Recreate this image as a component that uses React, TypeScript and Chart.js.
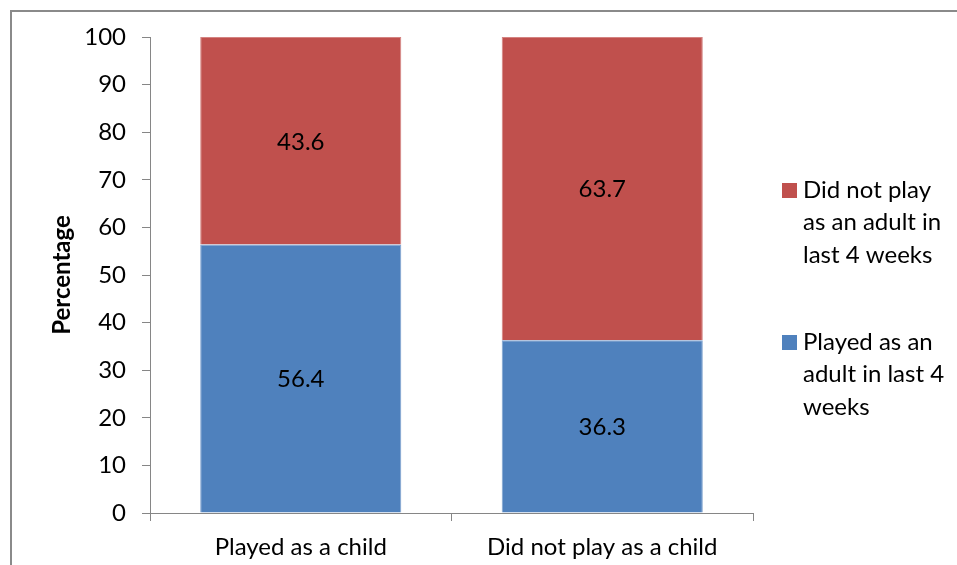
import React, { useEffect, useRef } from "react";
import { Chart, registerables } from "chart.js";

Chart.register(...registerables);

const categories = ["Played as a child", "Did not play as a child"];
const playedAsAdult = [56.4, 36.3];
const didNotPlayAsAdult = [43.6, 63.7];
const seriesNames = [
  "Played as an adult in last 4 weeks",
  "Did not play as an adult in last 4 weeks",
];
const legendLines = [
  ["Did not play", "as an adult in", "last 4 weeks"],
  ["Played as an", "adult in last 4", "weeks"],
];
const yAxisTitle = "Percentage";
const yMin = 0;
const yMax = 100;
const yStep = 10;

const RED = "#C0504D";
const BLUE = "#4F81BD";
const FONT = "Lato, 'Open Sans', sans-serif";

const framePlugin = {
  id: "frame",
  beforeDraw(chart: any) {
    const ctx = chart.ctx;
    ctx.save();
    ctx.fillStyle = "#8a8a8a";
    ctx.fillRect(10, 10, chart.width - 10, 2);
    ctx.fillRect(10, 10, 2, chart.height - 10);
    ctx.restore();
  },
};

const dataLabelPlugin = {
  id: "dataLabels",
  afterDatasetsDraw(chart: any) {
    const ctx = chart.ctx;
    ctx.save();
    ctx.font = `24px ${FONT}`;
    ctx.fillStyle = "#000";
    ctx.textAlign = "center";
    ctx.textBaseline = "middle";
    chart.data.datasets.forEach((ds: any, di: number) => {
      const meta = chart.getDatasetMeta(di);
      meta.data.forEach((el: any, i: number) => {
        const p = el.getCenterPoint();
        ctx.fillText(String(ds.data[i]), p.x, p.y + 1);
      });
    });
    ctx.restore();
  },
};

const legendPlugin = {
  id: "customLegend",
  afterDraw(chart: any) {
    const ctx = chart.ctx;
    const area = chart.chartArea;
    const items = [
      { color: RED, lines: legendLines[0], y: area.top + 153 },
      { color: BLUE, lines: legendLines[1], y: area.top + 305 },
    ];
    ctx.save();
    ctx.font = `24px ${FONT}`;
    ctx.fillStyle = "#000";
    ctx.textAlign = "left";
    ctx.textBaseline = "middle";
    items.forEach((it) => {
      const bx = area.right + 29;
      ctx.fillStyle = it.color;
      ctx.fillRect(bx, it.y - 7, 15, 15);
      ctx.fillStyle = "#000";
      it.lines.forEach((ln, k) => {
        ctx.fillText(ln, bx + 21, it.y + k * 32.5);
      });
    });
    ctx.restore();
  },
};

export default function App() {
  const ref = useRef<HTMLCanvasElement>(null);

  useEffect(() => {
    if (!ref.current) return;
    const chart = new Chart(ref.current, {
      type: "bar",
      data: {
        labels: categories,
        datasets: [
          {
            label: seriesNames[0],
            data: playedAsAdult,
            backgroundColor: BLUE,
            borderColor: "#7FA2CF",
            borderWidth: 1,
            barPercentage: 0.667,
            categoryPercentage: 1.0,
          },
          {
            label: seriesNames[1],
            data: didNotPlayAsAdult,
            backgroundColor: RED,
            borderColor: "#D48381",
            borderWidth: 1,
            barPercentage: 0.667,
            categoryPercentage: 1.0,
          },
        ],
      },
      options: {
        responsive: false,
        animation: false,
        layout: { padding: { left: 40, right: 204, top: 37, bottom: 0 } },
        plugins: {
          legend: { display: false },
          tooltip: { enabled: false },
        },
        scales: {
          x: {
            stacked: true,
            grid: {
              offset: true,
              drawOnChartArea: false,
              drawTicks: true,
              tickLength: 8,
              color: "#868686",
            },
            border: { color: "#868686", width: 1 },
            ticks: {
              color: "#000",
              font: { family: FONT, size: 24 },
              padding: 12,
              maxRotation: 0,
            },
            afterFit(scale: any) {
              scale.height = 52;
            },
          },
          y: {
            stacked: true,
            min: yMin,
            max: yMax,
            grid: {
              drawOnChartArea: false,
              drawTicks: true,
              tickLength: 8,
              color: "#868686",
            },
            border: { color: "#868686", width: 1 },
            ticks: {
              stepSize: yStep,
              color: "#000",
              font: { family: FONT, size: 24 },
              padding: 16,
            },
            title: {
              display: true,
              text: yAxisTitle,
              color: "#000",
              font: { family: FONT, size: 24, weight: "bold" },
              padding: { top: 8, bottom: 0 },
            },
            afterFit(scale: any) {
              scale.width = 110;
            },
          },
        },
      },
      plugins: [framePlugin, dataLabelPlugin, legendPlugin],
    });
    return () => chart.destroy();
  }, []);

  return (
    <div style={{ position: "absolute", left: 0, top: 0, width: 957, height: 565, background: "#fff" }}>
      <canvas ref={ref} width={957} height={565} style={{ display: "block" }} />
    </div>
  );
}
